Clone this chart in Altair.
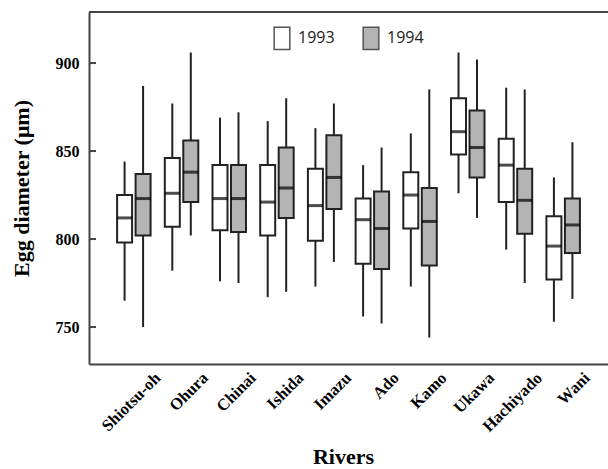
import altair as alt
import pandas as pd

rivers = ["Shiotsu-oh", "Ohura", "Chinai", "Ishida", "Imazu", "Ado", "Kamo", "Ukawa", "Hachiyado", "Wani"]
years = ["1993", "1994"]

# per river: values for 1993 then 1994
wmin_93 = [765, 782, 776, 767, 773, 756, 773, 826, 794, 753]
q1_93 = [798, 807, 805, 802, 799, 786, 806, 848, 821, 777]
med_93 = [812, 826, 823, 821, 819, 811, 825, 861, 842, 796]
q3_93 = [825, 846, 842, 842, 840, 823, 838, 880, 857, 813]
wmax_93 = [844, 877, 869, 867, 863, 842, 860, 906, 886, 835]

wmin_94 = [750, 802, 775, 770, 787, 752, 744, 812, 775, 766]
q1_94 = [802, 821, 804, 812, 817, 783, 785, 835, 803, 792]
med_94 = [823, 838, 823, 829, 835, 806, 810, 852, 822, 808]
q3_94 = [837, 856, 842, 852, 859, 827, 829, 873, 840, 823]
wmax_94 = [887, 906, 872, 880, 877, 852, 885, 902, 885, 855]

y_ticks = [750, 800, 850, 900]

rows = []
for i, r in enumerate(rivers):
    rows.append(dict(river=r, year="1993", lo=wmin_93[i], q1=q1_93[i], med=med_93[i], q3=q3_93[i], hi=wmax_93[i]))
    rows.append(dict(river=r, year="1994", lo=wmin_94[i], q1=q1_94[i], med=med_94[i], q3=q3_94[i], hi=wmax_94[i]))
df = pd.DataFrame(rows)

W, H = 519, 352
serif = "Liberation Serif"

x_enc = alt.X("river:N", sort=rivers,
              scale=alt.Scale(paddingInner=0, paddingOuter=0.44),
              axis=alt.Axis(title="Rivers", labelAngle=-45, labelFont=serif, labelFontWeight="bold",
                            labelFontSize=16.5, labelColor="black", labelAlign="right", labelBaseline="middle",
                            labelPadding=11, labelOffset=24, ticks=False, domainColor="#444", domainWidth=2,
                            titleFont=serif, titleFontSize=22, titleFontWeight="bold", titleColor="black",
                            titlePadding=12, titleX=254, grid=False))
xo_enc = alt.XOffset("year:N", sort=years, scale=alt.Scale(paddingInner=0, paddingOuter=0.29))
y_scale = alt.Scale(domain=[729, 929], nice=False, zero=False)
y_axis = alt.Axis(title="Egg diameter (μm)", values=y_ticks, ticks=False, labelFont=serif,
                  labelFontWeight="bold", labelFontSize=16, labelColor="black", labelPadding=10,
                  domainColor="#444", domainWidth=2, grid=False, titleFont=serif, titleFontSize=22,
                  titleFontWeight="bold", titleColor="black", titlePadding=22)

base = alt.Chart(df)

whisk = base.mark_rule(color="#222", strokeWidth=2).encode(
    x=x_enc, xOffset=xo_enc,
    y=alt.Y("lo:Q", scale=y_scale, axis=y_axis), y2="hi:Q")

box = base.mark_bar(size=15, stroke="#222", strokeWidth=2).encode(
    x=x_enc, xOffset=xo_enc,
    y=alt.Y("q1:Q", scale=y_scale), y2="q3:Q",
    fill=alt.Fill("year:N", sort=years,
                  scale=alt.Scale(domain=years, range=["white", "#b4b4b4"]),
                  legend=alt.Legend(title=None, orient="none", legendX=181, legendY=14,
                                    direction="horizontal", symbolType="M-0.7,-1H0.7V1H-0.7Z",
                                    symbolSize=500, symbolStrokeColor="#555", symbolStrokeWidth=1.5,
                                    labelFont="Open Sans", labelFontSize=16, labelColor="#222",
                                    columnPadding=24, labelOffset=4)))

med = base.mark_tick(color="black", thickness=3, size=15).encode(
    x=x_enc, xOffset=xo_enc, y=alt.Y("med:Q", scale=y_scale))

ticks_df = pd.DataFrame({"v": y_ticks})
yt = alt.Chart(ticks_df).mark_rule(color="#444", strokeWidth=2).encode(
    y=alt.Y("v:Q", scale=y_scale), x=alt.value(0), x2=alt.value(7))

top = alt.Chart(ticks_df).mark_rule(color="#444", strokeWidth=2).encode(
    y=alt.value(0), x=alt.value(0), x2=alt.value(W))

chart = alt.layer(whisk, box, med, yt, top).properties(
    width=W, height=H,
    autosize=alt.AutoSizeParams(type="none"),
    padding={"left": 89, "top": 12, "right": 0, "bottom": 105},
).configure_view(stroke=None).configure(background="white")

chart.save("out.html", embed_options={"renderer": "svg", "actions": False})
